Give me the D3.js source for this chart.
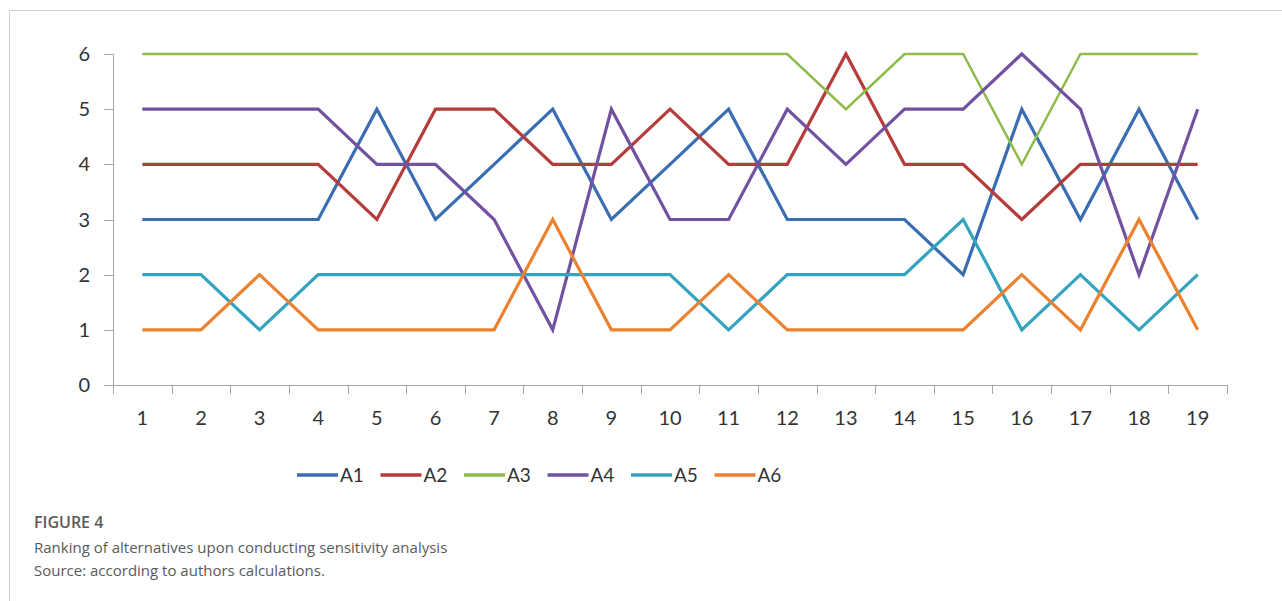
<!DOCTYPE html>
<html>
<head>
<meta charset="utf-8">
<script src="https://cdn.jsdelivr.net/npm/d3@7"></script>
<style>
  body { margin: 0; background: #fff; }
  svg { display: block; }
</style>
</head>
<body>
<div id="chart"></div>
<script>
const scenarios = d3.range(1, 20);
const seriesNames = ['A1', 'A2', 'A3', 'A4', 'A5', 'A6'];
const seriesColors = ['#3b6db3', '#b63c3a', '#8fbb4d', '#7152a0', '#33a3bf', '#ec812f'];
const a1 = [3, 3, 3, 3, 5, 3, 4, 5, 3, 4, 5, 3, 3, 3, 2, 5, 3, 5, 3];
const a2 = [4, 4, 4, 4, 3, 5, 5, 4, 4, 5, 4, 4, 6, 4, 4, 3, 4, 4, 4];
const a3 = [6, 6, 6, 6, 6, 6, 6, 6, 6, 6, 6, 6, 5, 6, 6, 4, 6, 6, 6];
const a4 = [5, 5, 5, 5, 4, 4, 3, 1, 5, 3, 3, 5, 4, 5, 5, 6, 5, 2, 5];
const a5 = [2, 2, 1, 2, 2, 2, 2, 2, 2, 2, 1, 2, 2, 2, 3, 1, 2, 1, 2];
const a6 = [1, 1, 2, 1, 1, 1, 1, 3, 1, 1, 2, 1, 1, 1, 1, 2, 1, 3, 1];
const yTicks = [0, 1, 2, 3, 4, 5, 6];

const seriesValues = [a1, a2, a3, a4, a5, a6];
const series = seriesNames.map((name, i) => ({
  name: name,
  color: seriesColors[i],
  values: seriesValues[i].map((v, j) => ({ x: scenarios[j], y: v }))
}));

const width = 1282;
const height = 601;
const margin = { top: 54, left: 113, right: 55, bottom: 216 };
const innerWidth = width - margin.left - margin.right;
const innerHeight = height - margin.top - margin.bottom;
const axisColor = '#a6a6a6';
const labelFont = 'Lato, sans-serif';

const svg = d3.select('#chart').append('svg')
  .attr('width', width)
  .attr('height', height)
  .attr('viewBox', [0, 0, width, height]);

// figure frame, only the top and left edges are in view
svg.append('path')
  .attr('d', `M 9.5 ${height} V 10.5 H ${width}`)
  .attr('fill', 'none')
  .attr('stroke', '#cfcfcf');

const g = svg.append('g')
  .attr('transform', `translate(${margin.left},${margin.top})`);

const xScale = d3.scaleBand().domain(scenarios).range([0, innerWidth]);
const yScale = d3.scaleLinear().domain([0, 6]).range([innerHeight, 0]);

// y axis
g.append('path')
  .attr('d', `M 0.5 0 V ${innerHeight}`)
  .attr('stroke', axisColor);
g.selectAll('.ytick')
  .data(yTicks)
  .join('line')
  .attr('class', 'ytick')
  .attr('x1', -9).attr('x2', 0)
  .attr('y1', d => Math.round(yScale(d)) + 0.5)
  .attr('y2', d => Math.round(yScale(d)) + 0.5)
  .attr('stroke', axisColor);
g.selectAll('.ylabel')
  .data(yTicks)
  .join('text')
  .attr('class', 'ylabel')
  .attr('x', -23)
  .attr('y', d => yScale(d) + 7)
  .attr('text-anchor', 'end')
  .attr('font-family', labelFont)
  .attr('font-size', 20)
  .attr('fill', '#333')
  .text(d => d);

// x axis, ticks sit on the category boundaries
g.append('path')
  .attr('d', `M 0 ${innerHeight + 0.5} H ${innerWidth}`)
  .attr('stroke', axisColor);
const bounds = scenarios.map(d => xScale(d)).concat(innerWidth);
g.selectAll('.xtick')
  .data(bounds)
  .join('line')
  .attr('class', 'xtick')
  .attr('x1', d => Math.round(d) + 0.5)
  .attr('x2', d => Math.round(d) + 0.5)
  .attr('y1', innerHeight)
  .attr('y2', innerHeight + 9)
  .attr('stroke', axisColor);
g.selectAll('.xlabel')
  .data(scenarios)
  .join('text')
  .attr('class', 'xlabel')
  .attr('x', d => xScale(d) + xScale.bandwidth() / 2)
  .attr('y', innerHeight + 40)
  .attr('text-anchor', 'middle')
  .attr('font-family', labelFont)
  .attr('font-size', 20)
  .attr('fill', '#333')
  .text(d => d);

// lines
const line = d3.line()
  .x(d => xScale(d.x) + xScale.bandwidth() / 2)
  .y(d => yScale(d.y));

g.selectAll('.series')
  .data(series)
  .join('path')
  .attr('class', 'series')
  .attr('d', d => line(d.values))
  .attr('fill', 'none')
  .attr('stroke', d => d.color)
  .attr('stroke-width', d => d.name === 'A3' ? 2.5 : 3.2);

// legend
const legendX = 297;
const legendStep = 83.5;
const legendY = 475;
const items = svg.append('g').selectAll('.legend-item')
  .data(series)
  .join('g')
  .attr('class', 'legend-item')
  .attr('transform', (d, i) => `translate(${legendX + i * legendStep},${legendY})`);
items.append('line')
  .attr('x1', 0).attr('x2', 41)
  .attr('stroke', d => d.color)
  .attr('stroke-width', 3.5);
items.append('text')
  .attr('x', 43)
  .attr('y', 7)
  .attr('font-family', labelFont)
  .attr('font-size', 19)
  .attr('fill', '#333')
  .text(d => d.name);

// caption
const caption = [
  { text: 'FIGURE 4', y: 528, size: 16, weight: 600 },
  { text: 'Ranking of alternatives upon conducting sensitivity analysis', y: 553, size: 15, weight: 400 },
  { text: 'Source: according to authors calculations.', y: 576, size: 15, weight: 400 }
];
svg.selectAll('.caption')
  .data(caption)
  .join('text')
  .attr('class', 'caption')
  .attr('x', 34)
  .attr('y', d => d.y)
  .attr('font-family', '"Open Sans", sans-serif')
  .attr('font-size', d => d.size)
  .attr('font-weight', d => d.weight)
  .attr('fill', '#5a5a5a')
  .text(d => d.text);
</script>
</body>
</html>
